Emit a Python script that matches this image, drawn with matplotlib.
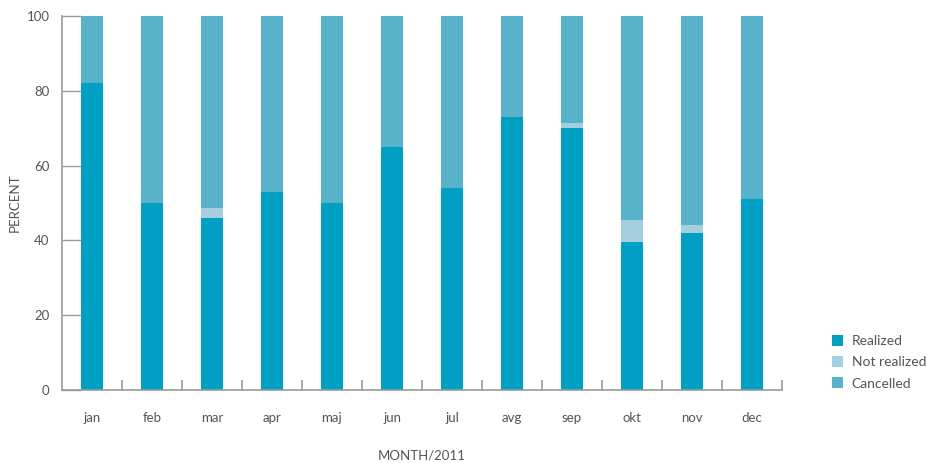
import matplotlib
matplotlib.use("Agg")
import matplotlib.pyplot as plt
import numpy as np
from matplotlib.ticker import FixedLocator, NullFormatter

plt.rcParams['font.family'] = ['Lato', 'DejaVu Sans']

months = ["jan", "feb", "mar", "apr", "maj", "jun", "jul", "avg", "sep", "okt", "nov", "dec"]
realized = [82, 50, 46, 53, 50, 65, 54, 73, 70, 39.5, 42, 51]
not_realized = [0, 0, 2.7, 0, 0, 0, 0, 0, 1.5, 6, 2, 0]
cancelled = [100 - r - n for r, n in zip(realized, not_realized)]

series_names = ["Realized", "Not realized", "Cancelled"]
colors = ["#00a0c4", "#a5cfdf", "#58b2ca"]

text_color = "#555555"
axis_color = "#999999"

fig = plt.figure(figsize=(9.28, 4.63), dpi=100)
ax = fig.add_axes([62 / 928, 73 / 463, 720 / 928, 374 / 463])

x = np.arange(len(months))
bottom = np.zeros(len(months))
for name, vals, c in zip(series_names, [realized, not_realized, cancelled], colors):
    ax.bar(x, vals, width=0.37, bottom=bottom, color=c, label=name, linewidth=0)
    bottom += np.array(vals)

ax.set_xlim(-0.5, len(months) - 0.5)
ax.set_ylim(0, 100)

for s in ["top", "right"]:
    ax.spines[s].set_visible(False)
for s in ["left", "bottom"]:
    ax.spines[s].set_color(axis_color)
    ax.spines[s].set_linewidth(1.2)

ax.set_yticks([0, 20, 40, 60, 80, 100])
ax.tick_params(axis="y", direction="in", length=14, width=1, color=axis_color,
               labelsize=9.5, labelcolor=text_color, pad=9)

ax.set_xticks(x)
ax.set_xticklabels(months)
ax.tick_params(axis="x", which="major", length=0, labelsize=9.5,
               labelcolor=text_color, pad=16)
ax.xaxis.set_minor_locator(FixedLocator(np.arange(0.5, len(months), 1)))
ax.xaxis.set_minor_formatter(NullFormatter())
ax.tick_params(axis="x", which="minor", direction="in", length=7, width=1.2,
               color=axis_color)

ax.set_ylabel("PERCENT", fontsize=9.5, color=text_color)
ax.yaxis.set_label_coords(-0.057, 0.5)
ax.set_xlabel("MONTH/2011", fontsize=9.5, color=text_color)
ax.xaxis.set_label_coords(0.5, -0.158)

leg = ax.legend(loc="upper left", bbox_to_anchor=(1.069, 0.148), frameon=False,
                fontsize=10, handlelength=0.85, handleheight=0.85,
                handletextpad=0.6, labelspacing=0.65, labelcolor=text_color,
                borderaxespad=0, borderpad=0)

fig.savefig("out.png", dpi=100)
